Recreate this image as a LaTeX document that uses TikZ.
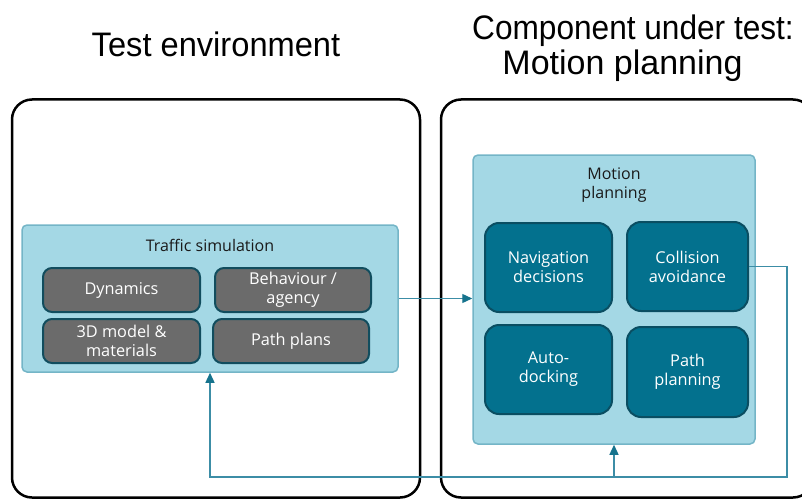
\documentclass[tikz,border=0pt]{standalone}
\usepackage{fontspec}
\usepackage{graphicx}
\setmainfont{Liberation Sans}
\newfontfamily\bodyfont{Open Sans}
\usetikzlibrary{arrows.meta}

\definecolor{lightfill}{HTML}{A4D8E5}
\definecolor{lightdraw}{HTML}{74B5C7}
\definecolor{greyfill}{HTML}{6B6B6B}
\definecolor{greydraw}{HTML}{114D5E}
\definecolor{tealfill}{HTML}{03718E}
\definecolor{tealdraw}{HTML}{0A4E62}
\definecolor{linec}{HTML}{3C8DA6}
\definecolor{tipc}{HTML}{16738D}
\definecolor{inktext}{HTML}{1A1A1A}

\tikzset{
  frame/.style={draw=black, line width=2.5pt, rounded corners=20pt, fill=none, inner sep=0pt},
  groupbox/.style={draw=lightdraw, fill=lightfill, line width=1.5pt, rounded corners=5pt, inner sep=0pt},
  greybox/.style={draw=greydraw, fill=greyfill, line width=2pt, rounded corners=9pt, inner sep=0pt,
    text=white, align=center, font=\bodyfont\fontsize{16.3}{18.5}\selectfont},
  tealbox/.style={draw=tealdraw, fill=tealfill, line width=2pt, rounded corners=14pt, inner sep=0pt,
    text=white, align=center, font=\bodyfont\fontsize{16.3}{19}\selectfont},
  boxtitle/.style={inner sep=0pt, text=inktext, align=center, font=\bodyfont\fontsize{16}{19}\selectfont},
  headline/.style={inner sep=0pt, anchor=base, text=black, font=\fontsize{34}{40}\selectfont},
  conn/.style={draw=linec, line width=1.3pt},
  tip/.style={-{Triangle[length=10pt, width=9pt, color=tipc]}}
}

\begin{document}
\begin{tikzpicture}[x=1pt, y=-1pt]
\useasboundingbox (0,0) rectangle (802,500);
\clip (0,0) rectangle (802,500);

% headings
\node[headline] (hEnv) at (216,57) {\scalebox{0.96}[1]{Test environment}};
\node[headline] (hCut1) at (633,40) {\scalebox{0.93}[1]{Component under test:}};
\node[headline] (hCut2) at (622.5,75) {Motion planning};

% outer frames
\node[frame, minimum width=408pt, minimum height=398pt] (envframe) at (216,298.5) {};
\node[frame, minimum width=372pt, minimum height=398pt] (cutframe) at (627,298.5) {};

% traffic simulation group
\node[groupbox, minimum width=376pt, minimum height=147pt] (ts) at (210,298.5) {};
\node[boxtitle] (tstitle) at (210,245) {Traffic simulation};
\node[greybox, minimum width=157pt, minimum height=44pt] (dyn) at (121.5,290) {Dynamics};
\node[greybox, minimum width=156pt, minimum height=44pt] (beh) at (293,290) {Behaviour /\\agency};
\node[greybox, minimum width=157pt, minimum height=44pt] (mod) at (121.5,341) {3D model \&\\materials};
\node[greybox, minimum width=156pt, minimum height=44pt] (pp) at (291,341) {Path plans};

% motion planning group
\node[groupbox, minimum width=282pt, minimum height=289pt] (mp) at (614,299.5) {};
\node[boxtitle] (mptitle) at (614,185) {Motion\\planning};
\node[tealbox, minimum width=127pt, minimum height=89pt] (nav) at (548.5,267.5) {Navigation\\decisions};
\node[tealbox, minimum width=121pt, minimum height=89pt] (ca) at (687.5,266.5) {Collision\\avoidance};
\node[tealbox, minimum width=127pt, minimum height=89pt] (ad) at (548.5,369.5) {Auto-\\docking};
\node[tealbox, minimum width=121pt, minimum height=90pt] (pl) at (687.5,372) {Path\\planning};

% connectors
\coordinate (loopcorner) at (787,477);
\draw[conn, tip] (ts.east) -- (ts.east -| mp.west);
\draw[conn, tip] (ca.east) -| (loopcorner) -| (ts.south);
\draw[conn, tip] (mp.south |- loopcorner) -- (mp.south);
\end{tikzpicture}
\end{document}
